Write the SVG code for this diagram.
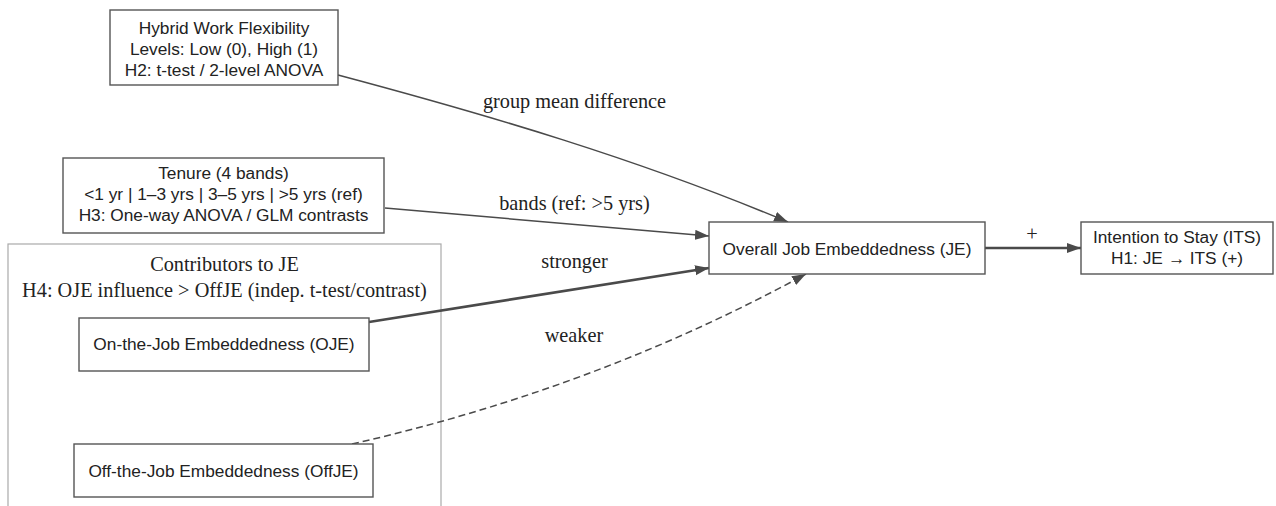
<svg xmlns="http://www.w3.org/2000/svg" width="1276" height="506" viewBox="0 0 1276 506">
<style>
.node rect{fill:#fff;stroke:#555;stroke-width:1.4}
.cluster rect{fill:none;stroke:#aaa;stroke-width:1.2}
.nt{font-family:"Liberation Sans",Arial,sans-serif;font-size:17.3px;fill:#222;text-anchor:middle}
.lt{font-family:"Liberation Serif","Times New Roman",serif;font-size:20.3px;fill:#222;text-anchor:middle}
.edge{fill:none;stroke:#4a4a4a;stroke-width:1.5}
.thick{stroke-width:2.6}
.dash{stroke-dasharray:7,4}
</style>
<defs>
<marker id="ah" markerUnits="userSpaceOnUse" markerWidth="15" markerHeight="11" refX="14" refY="5" orient="auto">
<path d="M0,0 L14,5 L0,10 z" fill="#4a4a4a"/>
</marker>
</defs>
<rect width="1276" height="506" fill="#fff"/>
<g id="cluster_contributors" class="cluster">
<rect x="8" y="244" width="433" height="270"/>
<text class="lt" x="224.5" y="271">Contributors to JE</text>
<text class="lt" x="224.5" y="297">H4: OJE influence &gt; OffJE (indep. t-test/contrast)</text>
</g>
<g id="edges">
<path class="edge" d="M338,75 C488,115 638,159 788,222" marker-end="url(#ah)"/>
<path class="edge" d="M385,208 L709,236" marker-end="url(#ah)"/>
<path class="edge thick" d="M369,322 L709,268" marker-end="url(#ah)"/>
<path class="edge dash" d="M352,444 C502,410 656,356 806,274" marker-end="url(#ah)"/>
<path class="edge thick" d="M985,248 L1081,248" marker-end="url(#ah)"/>
<text class="lt" x="574.5" y="108">group mean difference</text>
<text class="lt" x="574.5" y="210">bands (ref: &gt;5 yrs)</text>
<text class="lt" x="574.5" y="268">stronger</text>
<text class="lt" x="574" y="342">weaker</text>
<text class="lt" x="1032" y="241">+</text>
</g>
<g id="hybrid" class="node">
<rect x="110" y="10" width="228" height="75"/>
<text class="nt" x="224" y="34">Hybrid Work Flexibility</text>
<text class="nt" x="224" y="55">Levels: Low (0), High (1)</text>
<text class="nt" x="224" y="76">H2: t-test / 2-level ANOVA</text>
</g>
<g id="tenure" class="node">
<rect x="63" y="158" width="321" height="75"/>
<text class="nt" x="223.5" y="179">Tenure (4 bands)</text>
<text class="nt" x="223.5" y="200">&lt;1 yr | 1–3 yrs | 3–5 yrs | &gt;5 yrs (ref)</text>
<text class="nt" x="223.5" y="221">H3: One-way ANOVA / GLM contrasts</text>
</g>
<g id="oje" class="node">
<rect x="79" y="318" width="290" height="53"/>
<text class="nt" x="224" y="350">On-the-Job Embeddedness (OJE)</text>
</g>
<g id="offje" class="node">
<rect x="74" y="444" width="299" height="53"/>
<text class="nt" x="223.5" y="477">Off-the-Job Embeddedness (OffJE)</text>
</g>
<g id="je" class="node">
<rect x="709" y="222" width="276" height="52"/>
<text class="nt" x="847" y="255">Overall Job Embeddedness (JE)</text>
</g>
<g id="its" class="node">
<rect x="1081" y="222" width="192" height="52"/>
<text class="nt" x="1177" y="243">Intention to Stay (ITS)</text>
<text class="nt" x="1177" y="264">H1: JE → ITS (+)</text>
</g>
</svg>
